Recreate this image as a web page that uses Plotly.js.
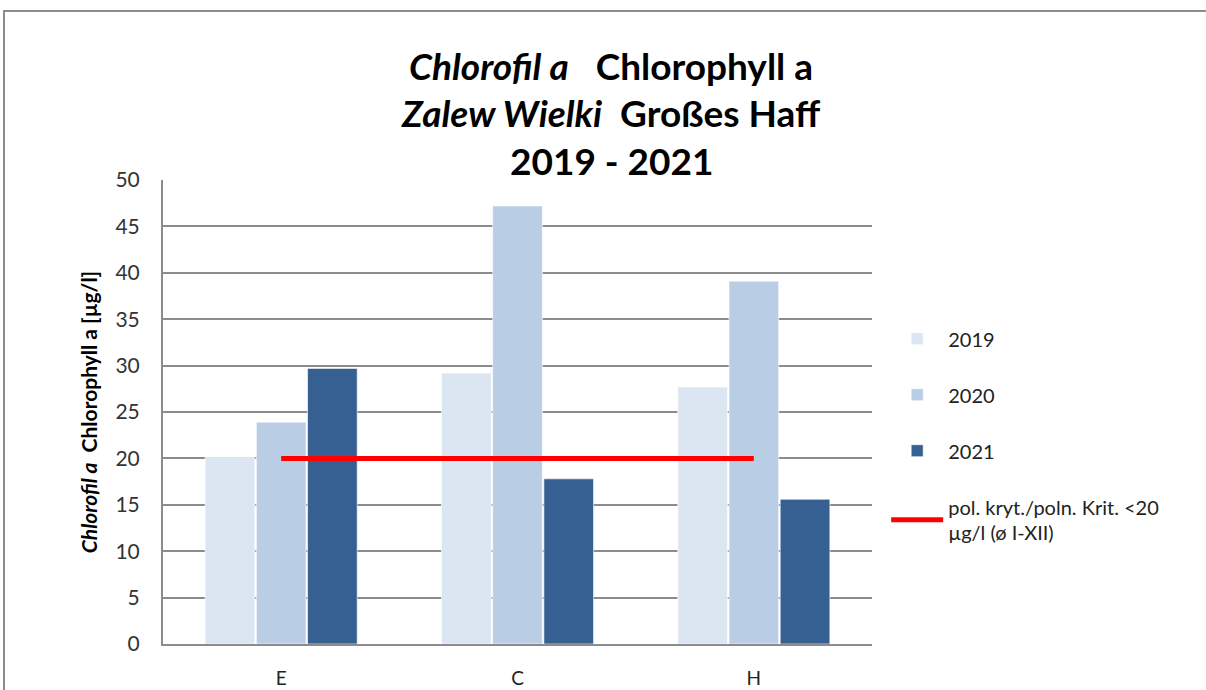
<!DOCTYPE html>
<html>
<head>
<meta charset="utf-8">
<script src="https://cdn.plot.ly/plotly-3.0.1.min.js"></script>
<style>
  html, body { margin: 0; padding: 0; background: #fff; }
  #wrap { position: relative; width: 1206px; height: 690px; overflow: hidden; }
  #chart { position: absolute; left: 0; top: 0; width: 1206px; height: 690px; }
  #frame { position: absolute; left: 3px; top: 10px; width: 1300px; height: 800px;
           border-left: 2px solid #8c8c8c; border-top: 2px solid #8c8c8c; pointer-events: none; }
</style>
</head>
<body>
<div id="wrap">
  <div id="chart"></div>
  <div id="frame"></div>
</div>
<script>
// Data
const categories = ["E", "C", "H"];
const years = ["2019", "2020", "2021"];
const values2019 = [20.1, 29.2, 27.7];
const values2020 = [23.9, 47.2, 39.1];
const values2021 = [29.7, 17.8, 15.6];
const criterionValues = [20, 20, 20];
const criterionLabel = "pol. kryt./poln. Krit. &lt;20<br>µg/l (ø I-XII)";
const yTicks = [0, 5, 10, 15, 20, 25, 30, 35, 40, 45, 50];
const titleLines = [
  "<i>Chlorofil a</i>   Chlorophyll a",
  "<i>Zalew Wielki</i>  Großes Haff",
  "2019 - 2021"
];

const colors = ["#dce6f2", "#b9cde5", "#376092"];
const seriesValues = [values2019, values2020, values2021];

const font = "Lato, Open Sans, sans-serif";

const traces = years.map((y, i) => ({
  type: "bar",
  name: y,
  x: categories,
  y: seriesValues[i],
  legendgroup: "g" + i,
  marker: { color: colors[i], line: { color: "rgba(255,255,255,0.6)", width: 1 } },
  hoverinfo: "x+y+name"
}));

traces.push({
  type: "scatter",
  mode: "lines",
  name: criterionLabel,
  x: categories,
  y: criterionValues,
  legendgroup: "g3",
  line: { color: "#ff0000", width: 5 }
});

// Title lines as annotations
const plotTop = 180, plotBottom = 644, plotLeft = 163, plotRight = 872;
const titleRows = [65, 112, 160];
const titleAnnotations = titleLines.map((t, i) => ({
  text: t,
  xref: "paper", yref: "paper",
  x: (611 - plotLeft) / (plotRight - plotLeft),
  y: (plotBottom - titleRows[i]) / (plotBottom - plotTop),
  xanchor: "center", yanchor: "middle",
  showarrow: false,
  font: { family: font, size: 37, color: "#000", weight: "bold" }
}));

const layout = {
  width: 1206,
  height: 690,
  margin: { l: plotLeft, r: 1206 - plotRight, t: plotTop, b: 690 - plotBottom },
  paper_bgcolor: "#ffffff",
  plot_bgcolor: "#ffffff",
  font: { family: font, color: "#222" },
  annotations: titleAnnotations,
  barmode: "group",
  bargap: 0.35,
  bargroupgap: 0.03,
  showlegend: true,
  legend: {
    x: 1.02, xanchor: "left",
    y: 0.70, yanchor: "top",
    font: { family: font, size: 20, color: "#222" },
    tracegroupgap: 27,
    traceorder: "grouped",
    itemwidth: 52,
    bgcolor: "rgba(0,0,0,0)"
  },
  xaxis: {
    type: "category",
    showline: true,
    linecolor: "#8c8c8c",
    linewidth: 2,
    showgrid: false,
    ticks: "",
    ticklabelstandoff: 16,
    tickfont: { family: font, size: 19, color: "#222" },
    fixedrange: true
  },
  yaxis: {
    range: [0, 50],
    tickvals: yTicks,
    showline: true,
    linecolor: "#8c8c8c",
    linewidth: 2,
    showgrid: true,
    gridcolor: "#8c8c8c",
    gridwidth: 2,
    zeroline: false,
    ticks: "",
    ticklabelstandoff: 17,
    tickfont: { family: font, size: 21, color: "#333" },
    title: {
      text: "<i>Chlorofil a</i>  Chlorophyll a [µg/l]",
      font: { family: font, size: 21, color: "#000", weight: "bold" },
      standoff: 12
    },
    fixedrange: true
  }
};

Plotly.newPlot("chart", traces, layout, { displayModeBar: false });
</script>
</body>
</html>
